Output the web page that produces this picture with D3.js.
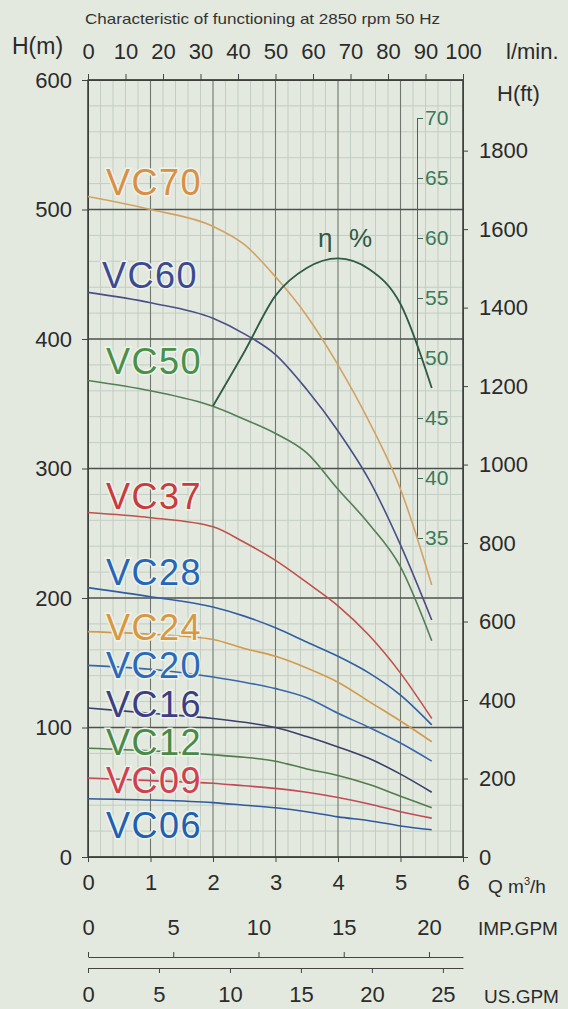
<!DOCTYPE html>
<html>
<head>
<meta charset="utf-8">
<script src="https://cdn.jsdelivr.net/npm/d3@7"></script>
<style>
  body { margin: 0; background: #e3e9df; }
  svg { display: block; font-family: "Liberation Sans", Arial, sans-serif; }
  .axis text { fill: #2b2b2b; }
  .axis line, .axis path { stroke: #444; }
</style>
</head>
<body>
<svg id="chart"></svg>
<script>
const width = 568;
const height = 1009;

// flow points (m3/h) where heads are read
const flowQ = [0, 1, 2, 2.5, 3, 3.5, 4, 4.5, 5, 5.5];

const models = ["VC70", "VC60", "VC50", "VC37", "VC28", "VC24", "VC20", "VC16", "VC12", "VC09", "VC06"];
const headVC70 = [510, 500, 487, 473, 448, 418, 380, 336, 284, 210];
const headVC60 = [436, 428, 416, 404, 388, 361, 329, 291, 241, 183];
const headVC50 = [368, 360, 348, 338, 327, 312, 284, 257, 224, 167];
const headVC37 = [266, 262, 255, 243, 229, 212, 194, 171, 142, 107];
const headVC28 = [208, 201, 193, 186, 177, 166, 155, 142, 125, 102];
const headVC24 = [174, 172, 168, 161, 155, 146, 135, 120, 105, 89];
const headVC20 = [148, 145, 139, 135, 130, 123, 111, 100, 88, 74];
const headVC16 = [115, 111, 107, 104, 100, 93, 85, 76, 64, 50];
const headVC12 = [84, 82, 79, 77, 74, 68, 63, 56, 47, 38];
const headVC09 = [61, 59, 57, 55, 53, 50, 46, 41, 35, 30];
const headVC06 = [45, 44, 42, 40, 38, 35, 31, 28, 24, 21];

// efficiency curve
const effQ = [2, 2.5, 3, 3.5, 4, 4.5, 5, 5.5];
const effValues = [46, 50.5, 55.2, 57.5, 58.3, 57.4, 54.5, 47.5];

// tick labels
const headTicks = [0, 100, 200, 300, 400, 500, 600];
const ftTicks = [0, 200, 400, 600, 800, 1000, 1200, 1400, 1600, 1800];
const lminTicks = [0, 10, 20, 30, 40, 50, 60, 70, 80, 90, 100];
const qTicks = [0, 1, 2, 3, 4, 5, 6];
const impTicks = [0, 5, 10, 15, 20];
const usTicks = [0, 5, 10, 15, 20, 25];
const effTicks = [35, 40, 45, 50, 55, 60, 65, 70];

const heads = [headVC70, headVC60, headVC50, headVC37, headVC28, headVC24,
               headVC20, headVC16, headVC12, headVC09, headVC06];

const lineColors = ["#d3a262", "#4a4f86", "#527f57", "#c0504a", "#2f5fa2", "#d39a4c",
                    "#3668aa", "#3a3f6c", "#527c4c", "#c24b57", "#2f5a9c"];
const labelColors = ["#d98f45", "#3d4a92", "#4a9048", "#c83c3c", "#2566b8", "#d9983f",
                     "#2b6ab8", "#3c3f82", "#4a8a48", "#d0404f", "#2060b0"];
// label baseline offset from the curve start (px)
const labelDy = [-2, -4, -6, -4, -3, 8, 13, 9, 7, 15, 39];

const plotLeft = 88, plotRight = 463, plotTop = 80, plotBottom = 857;

const svg = d3.select("#chart")
    .attr("width", width)
    .attr("height", height);

const x = d3.scaleLinear().domain([0, 6]).range([plotLeft, plotRight]);
const y = d3.scaleLinear().domain([0, 600]).range([plotBottom, plotTop]);
const xL = d3.scaleLinear().domain([0, 100]).range([plotLeft, plotRight]);
const yFt = d3.scaleLinear().domain([0, 600 * 3.3]).range([plotBottom, plotTop]);
const yEff = d3.scaleLinear().domain([35, 70]).range([538, 118]);
const xImp = d3.scaleLinear().domain([0, 6 * 3.666]).range([plotLeft, plotRight]);
const xUs = d3.scaleLinear().domain([0, 6 * 4.403]).range([plotLeft, plotRight]);

const plain = d => String(d);

// grid
const grid = svg.append("g");
grid.selectAll(".vminor")
    .data(d3.range(1, 30).filter(i => i % 5 !== 0).map(i => i * 0.2))
    .enter().append("line")
    .attr("x1", d => x(d)).attr("x2", d => x(d))
    .attr("y1", plotTop).attr("y2", plotBottom)
    .attr("stroke", "#c3cdc3").attr("stroke-width", 1);
grid.selectAll(".hminor")
    .data(d3.range(20, 600, 20).filter(v => v % 100 !== 0))
    .enter().append("line")
    .attr("x1", plotLeft).attr("x2", plotRight)
    .attr("y1", d => y(d)).attr("y2", d => y(d))
    .attr("stroke", "#c3cdc3").attr("stroke-width", 1);
grid.selectAll(".vmajor")
    .data(qTicks)
    .enter().append("line")
    .attr("x1", d => x(d)).attr("x2", d => x(d))
    .attr("y1", plotTop).attr("y2", plotBottom)
    .attr("stroke", "#6f776f").attr("stroke-width", 1.1);
grid.selectAll(".hmajor")
    .data(headTicks)
    .enter().append("line")
    .attr("x1", plotLeft).attr("x2", plotRight)
    .attr("y1", d => y(d)).attr("y2", d => y(d))
    .attr("stroke", "#4c524c").attr("stroke-width", 1.3);

// axes
function styleAxis(g, size) {
    g.attr("class", "axis");
    g.selectAll("text").attr("font-size", size);
    g.selectAll("line, path").attr("stroke-width", 1);
}

svg.append("g")
    .attr("transform", `translate(${plotLeft},0)`)
    .call(d3.axisLeft(y).tickValues(headTicks).tickFormat(plain)
        .tickSize(6).tickSizeOuter(0).tickPadding(10))
    .call(g => styleAxis(g, 22));

svg.append("g")
    .attr("transform", `translate(0,${plotTop})`)
    .call(d3.axisTop(xL).tickValues(lminTicks).tickFormat(plain)
        .tickSize(6).tickSizeOuter(0).tickPadding(15))
    .call(g => styleAxis(g, 22));

svg.append("g")
    .attr("transform", `translate(0,${plotBottom})`)
    .call(d3.axisBottom(x).tickValues(qTicks).tickFormat(plain)
        .tickSize(5).tickSizeOuter(0).tickPadding(12))
    .call(g => styleAxis(g, 22));

svg.append("g")
    .attr("transform", `translate(${plotRight},0)`)
    .call(d3.axisRight(yFt).tickValues(ftTicks).tickFormat(plain)
        .tickSize(5).tickSizeOuter(0).tickPadding(11))
    .call(g => styleAxis(g, 22));

const effAxis = svg.append("g")
    .attr("transform", "translate(417,0)")
    .call(d3.axisRight(yEff).tickValues(effTicks).tickFormat(plain)
        .tickSize(6).tickSizeOuter(6).tickPadding(2))
    .call(g => styleAxis(g, 21));
effAxis.selectAll("text").style("fill", "#3b7a5a");
effAxis.selectAll("line, path").style("stroke", "#3f6a55");

svg.append("g")
    .attr("transform", "translate(0,957)")
    .call(d3.axisTop(xImp).tickValues(impTicks).tickFormat(plain)
        .tickSize(5).tickSizeOuter(0).tickPadding(17))
    .call(g => styleAxis(g, 22));

svg.append("g")
    .attr("transform", "translate(0,968)")
    .call(d3.axisBottom(xUs).tickValues(usTicks).tickFormat(plain)
        .tickSize(5).tickSizeOuter(0).tickPadding(13))
    .call(g => styleAxis(g, 22));

// frame
svg.append("rect")
    .attr("x", plotLeft).attr("y", plotTop)
    .attr("width", plotRight - plotLeft).attr("height", plotBottom - plotTop)
    .attr("fill", "none").attr("stroke", "#3c403c").attr("stroke-width", 1.3);

// head curves
const line = d3.line()
    .x((d, i) => x(flowQ[i]))
    .y(d => y(d))
    .curve(d3.curveMonotoneX);

svg.append("g")
    .selectAll("path")
    .data(heads)
    .enter().append("path")
    .attr("d", line)
    .attr("fill", "none")
    .attr("stroke", (d, i) => lineColors[i])
    .attr("stroke-width", 1.6);

// efficiency curve
const effLine = d3.line()
    .x((d, i) => x(effQ[i]))
    .y(d => yEff(d))
    .curve(d3.curveMonotoneX);

svg.append("path")
    .datum(effValues)
    .attr("d", effLine)
    .attr("fill", "none")
    .attr("stroke", "#2f5a46")
    .attr("stroke-width", 1.8);

svg.append("text")
    .attr("x", 318).attr("y", 247)
    .attr("font-size", 26)
    .attr("fill", "#2f5a46")
    .attr("textLength", 54)
    .attr("lengthAdjust", "spacing")
    .text("η %");

// model labels
svg.append("g")
    .selectAll("text")
    .data(models)
    .enter().append("text")
    .attr("x", (d, i) => i === 1 ? 102 : 106)
    .attr("y", (d, i) => y(heads[i][0]) + labelDy[i])
    .attr("font-size", 36)
    .attr("letter-spacing", 1.5)
    .attr("fill", (d, i) => labelColors[i])
    .attr("stroke", "#eef3ec")
    .attr("stroke-width", 3)
    .attr("paint-order", "stroke")
    .text(d => d);

// titles and units
svg.append("text")
    .attr("x", 85).attr("y", 24)
    .attr("font-family", "'Liberation Sans Narrow', 'Liberation Sans', sans-serif")
    .attr("font-size", 15)
    .attr("fill", "#333")
    .attr("textLength", 355)
    .attr("lengthAdjust", "spacingAndGlyphs")
    .text("Characteristic of  functioning at 2850 rpm 50 Hz");

const units = [
    { t: "H(m)", x: 12, y: 54, s: 23 },
    { t: "l/min.", x: 506, y: 59, s: 22 },
    { t: "H(ft)", x: 497, y: 101, s: 22 },
    { t: "IMP.GPM", x: 478, y: 935, s: 19 },
    { t: "US.GPM", x: 484, y: 1003, s: 19 }
];
svg.append("g")
    .selectAll("text")
    .data(units)
    .enter().append("text")
    .attr("x", d => d.x).attr("y", d => d.y)
    .attr("font-size", d => d.s)
    .attr("fill", "#2b2b2b")
    .text(d => d.t);

const qLabel = svg.append("text")
    .attr("x", 488).attr("y", 893)
    .attr("font-size", 19)
    .attr("fill", "#2b2b2b");
qLabel.append("tspan").text("Q m");
qLabel.append("tspan").attr("font-size", 11).attr("dy", -8).text("3");
qLabel.append("tspan").attr("dy", 8).text("/h");
</script>
</body>
</html>
